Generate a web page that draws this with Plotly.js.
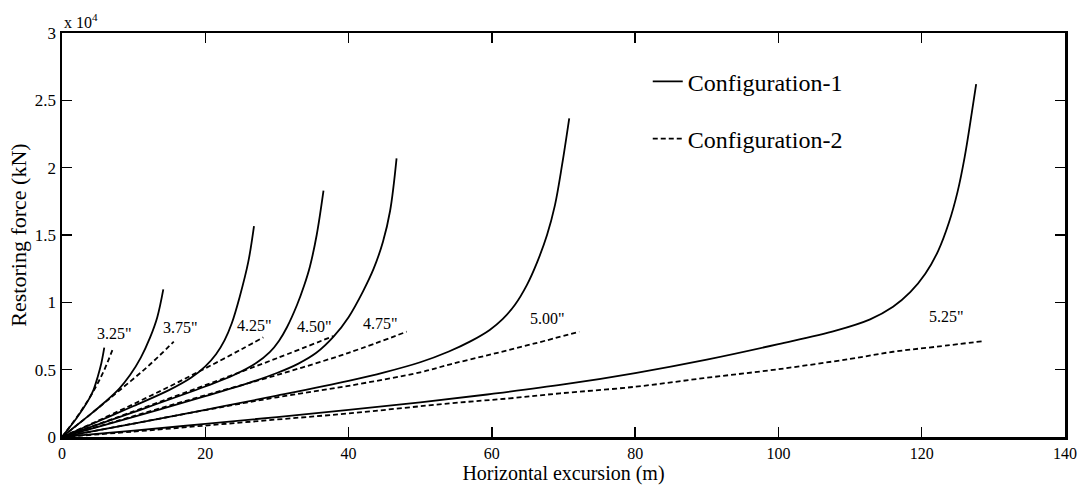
<!DOCTYPE html>
<html>
<head>
<meta charset="utf-8">
<script src="https://cdn.plot.ly/plotly-3.0.1.min.js"></script>
<style>html,body{margin:0;padding:0;background:#fff;}#chart{width:1083px;height:489px;}</style>
</head>
<body>
<div id="chart"></div>
<script>
// Chain diameters (labels)
const sizes = ['3.25"', '3.75"', '4.25"', '4.50"', '4.75"', '5.00"', '5.25"'];

// Configuration-1 (solid): horizontal excursion (m) and restoring force (kN)
const c1_325_x = [0, 1, 2, 3, 3.8, 4.4, 5, 5.5, 5.9];
const c1_325_y = [0, 680, 1380, 2150, 2850, 3500, 4500, 5500, 6630];
const c1_375_x = [0, 2, 4, 6, 8, 9.5, 11, 12.3, 13.3, 14.14];
const c1_375_y = [0, 850, 1700, 2600, 3600, 4600, 5900, 7400, 8900, 10960];
const c1_425_x = [0, 5, 10, 15, 18, 20, 21.5, 22.7, 23.7, 24.8, 26, 26.8];
const c1_425_y = [0, 1150, 2300, 3500, 4400, 5250, 6150, 7200, 8450, 10400, 13000, 15660];
const c1_450_x = [0, 10, 20, 24, 27, 29, 30.3, 31.4, 32.8, 33.8, 34.6, 35.55, 36.5];
const c1_450_y = [0, 1850, 3750, 4600, 5450, 6300, 7150, 8150, 9800, 11250, 12650, 15000, 18290];
const c1_475_x = [0, 10, 20, 26, 30, 33, 35.5, 37.9, 40, 42, 43.5, 44.8, 45.8, 46.7];
const c1_475_y = [0, 1500, 3030, 4000, 4750, 5450, 6250, 7450, 8900, 10800, 12500, 14500, 16800, 20690];
const c1_500_x = [0, 10, 20, 30, 40, 45, 50, 54, 57, 59.7, 61.5, 63.2, 64.9, 66.3, 67.7, 68.8, 69.8, 70.8];
const c1_500_y = [0, 1000, 2020, 3070, 4170, 4800, 5550, 6350, 7100, 7950, 8750, 9800, 11300, 12950, 15000, 17200, 20200, 23660];
const c1_525_x = [0, 10, 20, 30, 40, 50, 60, 70, 80, 90, 100, 108, 112.8, 116, 118.4, 120.5, 122.3, 123.8, 125, 126, 127, 127.6];
const c1_525_y = [0, 480, 970, 1480, 2010, 2570, 3200, 3900, 4750, 5750, 6900, 7900, 8740, 9670, 10750, 12115, 13825, 15925, 18205, 20805, 24105, 26200];

// Configuration-2 (dashed)
const c2_325_x = [0, 1, 2, 3, 4, 5, 6, 7.16];
const c2_325_y = [0, 700, 1420, 2200, 3050, 4000, 5100, 6630];
const c2_375_x = [0, 4, 8, 12, 15.6];
const c2_375_y = [0, 1700, 3450, 5250, 7080];
const c2_425_x = [0, 5, 10, 15, 20, 25, 28.1];
const c2_425_y = [0, 1200, 2450, 3750, 5100, 6500, 7400];
const c2_450_x = [0, 10, 20, 30, 37.9];
const c2_450_y = [0, 1900, 3850, 5850, 7500];
const c2_475_x = [0, 10, 20, 30, 40, 48.1];
const c2_475_y = [0, 1550, 3100, 4600, 6250, 7820];
const c2_500_x = [0, 10, 20, 30, 40, 50, 54.2, 60, 66, 72.2];
const c2_500_y = [0, 1000, 2000, 2950, 3800, 4800, 5400, 6150, 6950, 7820];
const c2_525_x = [0, 10, 20, 30, 40, 54.2, 62.5, 69.5, 80, 90, 99.8, 110, 116, 122, 128.8];
const c2_525_y = [0, 400, 850, 1300, 1750, 2500, 2870, 3240, 3730, 4400, 5020, 5800, 6330, 6700, 7130];

// Label positions (data units)
const labelX = [7.26, 16.5, 26.9, 35.3, 44.4, 67.7, 123.5];
const labelY = [7650, 8130, 8310, 8170, 8440, 8810, 8930];

// Axis ticks
const xTicks = [0, 20, 40, 60, 80, 100, 120, 140];
const yTicks = [0, 5000, 10000, 15000, 20000, 25000, 30000];
const yTickText = ['0', '0.5', '1', '1.5', '2', '2.5', '3'];

const c1 = [[c1_325_x,c1_325_y],[c1_375_x,c1_375_y],[c1_425_x,c1_425_y],[c1_450_x,c1_450_y],[c1_475_x,c1_475_y],[c1_500_x,c1_500_y],[c1_525_x,c1_525_y]];
const c2 = [[c2_325_x,c2_325_y],[c2_375_x,c2_375_y],[c2_425_x,c2_425_y],[c2_450_x,c2_450_y],[c2_475_x,c2_475_y],[c2_500_x,c2_500_y],[c2_525_x,c2_525_y]];

const FONT = '"Liberation Serif", "Times New Roman", Times, serif';
const traces = [];
c1.forEach((d, i) => traces.push({
  x: d[0], y: d[1], type: 'scatter', mode: 'lines',
  line: {color: '#000', width: 1.8, shape: 'spline', smoothing: 1},
  name: 'Configuration-1', legendgroup: 'c1', showlegend: i === 0
}));
c2.forEach((d, i) => traces.push({
  x: d[0], y: d[1], type: 'scatter', mode: 'lines',
  line: {color: '#000', width: 1.8, dash: '5px,3px', shape: 'spline', smoothing: 1},
  name: 'Configuration-2', legendgroup: 'c2', showlegend: i === 0
}));

const annotations = sizes.map((s, i) => ({
  x: labelX[i], y: labelY[i], xref: 'x', yref: 'y', text: s, showarrow: false,
  font: {family: FONT, size: 16, color: '#000'}
}));
annotations.push({
  xref: 'paper', yref: 'paper', x: 0, y: 1, xanchor: 'left', yanchor: 'bottom',
  yshift: 0, text: 'x 10<sup>4</sup>', showarrow: false,
  font: {family: FONT, size: 16, color: '#000'}
});

const layout = {
  width: 1083, height: 489,
  margin: {l: 62, r: 18, t: 33, b: 52},
  paper_bgcolor: '#fff', plot_bgcolor: '#fff',
  font: {family: FONT, color: '#000', size: 16},
  showlegend: true,
  legend: {x: 0.584, y: 0.935, xanchor: 'left', yanchor: 'top',
    font: {family: FONT, size: 24, color: '#000'}, bgcolor: 'rgba(0,0,0,0)',
    tracegroupgap: 23},
  xaxis: {range: [0, 140], tickvals: xTicks, ticks: 'inside', ticklen: 10, tickwidth: 1.5,
    tickcolor: '#000', showline: true, linecolor: '#000', linewidth: 2.5, mirror: 'ticks',
    showgrid: false, zeroline: false, tickfont: {family: FONT, size: 16},
    title: {text: 'Horizontal excursion (m)', font: {family: FONT, size: 20}, standoff: 4}},
  yaxis: {range: [0, 30000], tickvals: yTicks, ticktext: yTickText, ticks: 'inside', ticklen: 10, tickwidth: 1.5,
    tickcolor: '#000', showline: true, linecolor: '#000', linewidth: 2.5, mirror: 'ticks',
    showgrid: false, zeroline: false, tickfont: {family: FONT, size: 17},
    title: {text: 'Restoring force (kN)', font: {family: FONT, size: 22}, standoff: 2}},
  annotations: annotations
};

Plotly.newPlot('chart', traces, layout, {staticPlot: true, displayModeBar: false});
</script>
</body>
</html>
